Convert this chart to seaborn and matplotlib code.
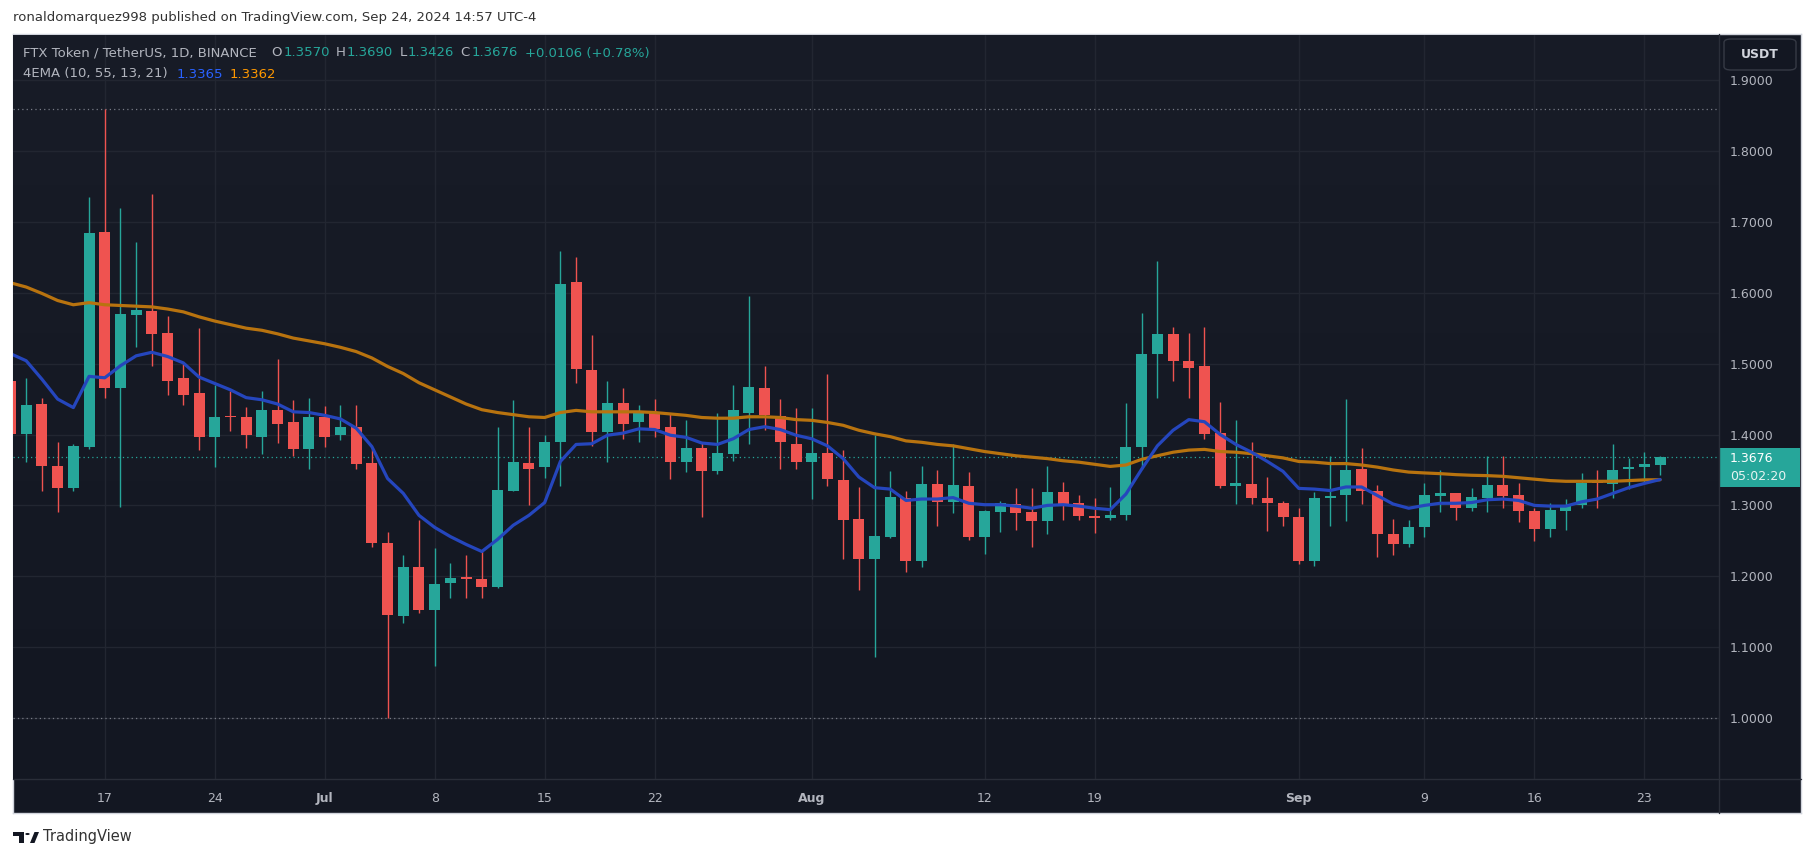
import numpy as np
import pandas as pd
import matplotlib
matplotlib.use("Agg")
import matplotlib.pyplot as plt
import matplotlib.patches as mpatches
import seaborn as sns

# ---------------- data ----------------
dates = pd.date_range("2024-06-11", "2024-09-24", freq="D")

opens = [
    1.476, 1.401, 1.443, 1.356, 1.324, 1.383, 1.686, 1.466, 1.569, 1.574,
    1.543, 1.479, 1.458, 1.396, 1.425, 1.424, 1.397, 1.434, 1.418, 1.379,
    1.425, 1.399, 1.410, 1.360, 1.247, 1.144, 1.213, 1.152, 1.190, 1.198,
    1.196, 1.185, 1.320, 1.360, 1.354, 1.389, 1.615, 1.491, 1.404, 1.445,
    1.417, 1.430, 1.410, 1.361, 1.381, 1.348, 1.373, 1.431, 1.466, 1.426,
    1.387, 1.361, 1.374, 1.336, 1.281, 1.225, 1.255, 1.311, 1.221, 1.330,
    1.305, 1.328, 1.256, 1.291, 1.302, 1.291, 1.278, 1.319, 1.304, 1.285,
    1.282, 1.286, 1.382, 1.513, 1.542, 1.504, 1.496, 1.402, 1.328, 1.330,
    1.311, 1.304, 1.284, 1.221, 1.310, 1.314, 1.352, 1.321, 1.260, 1.245,
    1.269, 1.313, 1.317, 1.296, 1.311, 1.329, 1.314, 1.292, 1.267, 1.292,
    1.300, 1.334, 1.330, 1.352, 1.354, 1.357]
highs = [
    1.490, 1.480, 1.451, 1.390, 1.387, 1.735, 1.859, 1.719, 1.671, 1.739,
    1.567, 1.500, 1.550, 1.470, 1.462, 1.439, 1.462, 1.507, 1.449, 1.452,
    1.440, 1.441, 1.441, 1.380, 1.263, 1.230, 1.280, 1.240, 1.219, 1.230,
    1.236, 1.410, 1.449, 1.411, 1.399, 1.659, 1.650, 1.541, 1.475, 1.465,
    1.442, 1.450, 1.431, 1.421, 1.390, 1.431, 1.470, 1.595, 1.496, 1.450,
    1.438, 1.438, 1.486, 1.378, 1.326, 1.399, 1.349, 1.321, 1.356, 1.350,
    1.387, 1.347, 1.293, 1.306, 1.325, 1.325, 1.356, 1.333, 1.315, 1.311,
    1.326, 1.445, 1.572, 1.645, 1.552, 1.543, 1.552, 1.446, 1.421, 1.390,
    1.340, 1.306, 1.297, 1.319, 1.370, 1.450, 1.381, 1.329, 1.281, 1.280,
    1.331, 1.350, 1.318, 1.325, 1.370, 1.369, 1.331, 1.296, 1.304, 1.309,
    1.346, 1.350, 1.387, 1.367, 1.376, 1.369]
lows = [
    1.392, 1.361, 1.321, 1.290, 1.320, 1.380, 1.451, 1.298, 1.524, 1.497,
    1.456, 1.442, 1.378, 1.354, 1.405, 1.381, 1.372, 1.388, 1.370, 1.351,
    1.383, 1.392, 1.352, 1.241, 1.000, 1.134, 1.148, 1.074, 1.169, 1.169,
    1.169, 1.184, 1.320, 1.301, 1.338, 1.328, 1.473, 1.384, 1.361, 1.393,
    1.390, 1.396, 1.337, 1.347, 1.283, 1.344, 1.362, 1.387, 1.407, 1.352,
    1.352, 1.309, 1.327, 1.225, 1.180, 1.086, 1.254, 1.206, 1.213, 1.271,
    1.289, 1.251, 1.231, 1.262, 1.265, 1.241, 1.259, 1.279, 1.279, 1.261,
    1.279, 1.279, 1.351, 1.451, 1.476, 1.451, 1.394, 1.324, 1.302, 1.302,
    1.264, 1.271, 1.217, 1.214, 1.271, 1.278, 1.302, 1.227, 1.230, 1.241,
    1.256, 1.290, 1.280, 1.292, 1.290, 1.296, 1.277, 1.250, 1.256, 1.265,
    1.297, 1.296, 1.311, 1.323, 1.333, 1.3426]
closes = [
    1.401, 1.442, 1.355, 1.324, 1.384, 1.684, 1.465, 1.570, 1.576, 1.542,
    1.476, 1.456, 1.396, 1.424, 1.424, 1.399, 1.434, 1.415, 1.380, 1.425,
    1.397, 1.410, 1.358, 1.247, 1.145, 1.213, 1.152, 1.189, 1.198, 1.196,
    1.185, 1.322, 1.361, 1.351, 1.390, 1.612, 1.493, 1.403, 1.445, 1.415,
    1.430, 1.408, 1.361, 1.381, 1.349, 1.374, 1.434, 1.467, 1.428, 1.389,
    1.361, 1.374, 1.337, 1.280, 1.224, 1.257, 1.312, 1.221, 1.330, 1.305,
    1.329, 1.256, 1.292, 1.303, 1.289, 1.278, 1.319, 1.302, 1.285, 1.282,
    1.287, 1.383, 1.513, 1.542, 1.503, 1.494, 1.401, 1.328, 1.332, 1.311,
    1.303, 1.283, 1.221, 1.311, 1.313, 1.350, 1.320, 1.259, 1.245, 1.270,
    1.315, 1.317, 1.296, 1.312, 1.329, 1.313, 1.292, 1.267, 1.294, 1.301,
    1.332, 1.332, 1.350, 1.353, 1.358, 1.3676]

ema_fast = [
    1.514, 1.504, 1.478, 1.450, 1.438, 1.482, 1.480, 1.497, 1.511, 1.516,
    1.510, 1.501, 1.481, 1.472, 1.463, 1.452, 1.449, 1.443, 1.432, 1.431,
    1.427, 1.422, 1.409, 1.383, 1.338, 1.317, 1.286, 1.269, 1.256, 1.245,
    1.235, 1.252, 1.272, 1.286, 1.304, 1.362, 1.386, 1.387, 1.399, 1.402,
    1.408, 1.407, 1.399, 1.396, 1.388, 1.386, 1.394, 1.407, 1.411, 1.407,
    1.399, 1.394, 1.384, 1.366, 1.340, 1.325, 1.323, 1.307, 1.309, 1.309,
    1.311, 1.303, 1.301, 1.301, 1.299, 1.296, 1.300, 1.301, 1.299, 1.296,
    1.294, 1.316, 1.351, 1.384, 1.406, 1.421, 1.418, 1.400, 1.386, 1.375,
    1.362, 1.348, 1.324, 1.323, 1.321, 1.326, 1.326, 1.314, 1.302, 1.296,
    1.300, 1.303, 1.303, 1.304, 1.308, 1.309, 1.307, 1.300, 1.299, 1.299,
    1.305, 1.309, 1.317, 1.325, 1.331, 1.3365]
ema_slow = [
    1.614, 1.608, 1.599, 1.589, 1.583, 1.586, 1.583, 1.582, 1.581, 1.580,
    1.577, 1.573, 1.566, 1.560, 1.555, 1.550, 1.547, 1.542, 1.536, 1.532,
    1.528, 1.523, 1.517, 1.508, 1.496, 1.486, 1.473, 1.463, 1.453, 1.443,
    1.435, 1.431, 1.428, 1.425, 1.424, 1.431, 1.434, 1.432, 1.432, 1.432,
    1.432, 1.431, 1.429, 1.427, 1.424, 1.423, 1.423, 1.425, 1.425, 1.424,
    1.421, 1.420, 1.417, 1.413, 1.406, 1.401, 1.397, 1.391, 1.389, 1.386,
    1.384, 1.380, 1.376, 1.373, 1.370, 1.368, 1.366, 1.363, 1.361, 1.358,
    1.355, 1.357, 1.365, 1.370, 1.375, 1.378, 1.379, 1.376, 1.375, 1.373,
    1.370, 1.367, 1.362, 1.361, 1.359, 1.359, 1.357, 1.354, 1.350, 1.347,
    1.3458, 1.3448, 1.3434, 1.3425, 1.342, 1.341, 1.339, 1.337, 1.335, 1.334,
    1.334, 1.334, 1.334, 1.335, 1.336, 1.3362]

tick_dates = ["2024-06-17", "2024-06-24", "2024-07-01", "2024-07-08", "2024-07-15",
              "2024-07-22", "2024-08-01", "2024-08-12", "2024-08-19", "2024-09-01",
              "2024-09-09", "2024-09-16", "2024-09-23"]
tick_labels = ["17", "24", "Jul", "8", "15", "22", "Aug", "12", "19", "Sep", "9", "16", "23"]
price_ticks = [1.0, 1.1, 1.2, 1.3, 1.4, 1.5, 1.6, 1.7, 1.8, 1.9]
last_price = 1.3676
period_high = 1.859
period_low = 1.000

# ---------------- style ----------------
sns.set_theme(style="dark")
plt.rcParams["font.family"] = ["DejaVu Sans"]

W, H = 1814, 858
fig = plt.figure(figsize=(W / 100, H / 100), dpi=100, facecolor="white")

def fx(x):
    return x / W

def fy(y):
    return 1 - y / H

UP = "#26a69a"
DOWN = "#ef5350"
TXT = "#b2b5be"
GRID = "#222631"
SEP = "#2a2e39"

# dark panel
panel = fig.add_axes([fx(12.7), fy(813), fx(1801 - 12.7), (813 - 34) / H])
panel.set_facecolor("#131722")
panel.set_xticks([]); panel.set_yticks([])
for s in panel.spines.values():
    s.set_color("#d1d4dc"); s.set_linewidth(1.0)

# plot area
L_, R_, T_, B_ = 12.7, 1719, 35, 779
ax = fig.add_axes([fx(L_), fy(B_), fx(R_ - L_), (B_ - T_) / H])
ax.set_facecolor("none")
grad = np.linspace(0, 1, 256).reshape(-1, 1)
from matplotlib.colors import LinearSegmentedColormap
cmap = LinearSegmentedColormap.from_list("bg", ["#181c27", "#131722"])
ax.imshow(grad, aspect="auto", cmap=cmap, extent=[0, 1, 0, 1], transform=ax.transAxes, zorder=0)

idx = np.arange(len(dates))
o = np.array(opens); h = np.array(highs); l = np.array(lows); c = np.array(closes)
up = c >= o
cols = np.where(up, UP, DOWN)

# grid
pos_ticks = [int(np.where(dates == pd.Timestamp(d))[0][0]) for d in tick_dates]
for p in price_ticks:
    ax.axhline(p, color=GRID, lw=1.0, zorder=1)
for p in pos_ticks:
    ax.axvline(p, color=GRID, lw=1.0, zorder=1)

# dotted lines
ax.axhline(period_high, color="#787b86", lw=0.9, ls=(0, (1, 2.5)), zorder=2)
ax.axhline(period_low, color="#787b86", lw=0.9, ls=(0, (1, 2.5)), zorder=2)
ax.axhline(last_price, color=UP, lw=0.9, ls=(0, (1, 2.5)), zorder=2)

# candles
ax.vlines(idx, l, h, colors=cols, lw=1.0, zorder=3)
body_bottom = np.minimum(o, c)
body_h = np.maximum(np.abs(c - o), 0.0028)
ax.bar(idx, body_h, bottom=body_bottom, width=0.7, color=cols, edgecolor="none", zorder=4)

# EMA lines
df = pd.DataFrame({"i": idx, "fast": ema_fast, "slow": ema_slow})
sns.lineplot(data=df, x="i", y="slow", ax=ax, color="#b8730f", lw=2.3, zorder=5, legend=False)
sns.lineplot(data=df, x="i", y="fast", ax=ax, color="#2546bd", lw=2.3, zorder=6, legend=False)

ax.set_xlim(0.14, 108.75)
ax.set_ylim(0.9141, 1.9635)
ax.set_xlabel(""); ax.set_ylabel("")
for s in ax.spines.values():
    s.set_visible(False)

ax.set_xticks(pos_ticks)
ax.set_xticklabels(tick_labels)
for lab in ax.get_xticklabels():
    if lab.get_text() in ("Jul", "Aug", "Sep"):
        lab.set_fontweight("bold")
ax.tick_params(axis="x", length=0, pad=9.5, labelsize=9, labelcolor=TXT)
ax.yaxis.tick_right()
ax.set_yticks(price_ticks)
ax.set_yticklabels([f"{p:.4f}" for p in price_ticks])
ax.tick_params(axis="y", length=0, pad=8, labelsize=9, labelcolor=TXT)
ax.grid(False)

# separators
fig.add_artist(plt.Line2D([fx(R_), fx(R_)], [fy(34), fy(813)], color=SEP, lw=1))
fig.add_artist(plt.Line2D([fx(12.7), fx(1801)], [fy(B_), fy(B_)], color=SEP, lw=1))

# current price box
fig.add_artist(mpatches.Rectangle((fx(1719.5), fy(487)), fx(80), (487 - 448) / H,
                                  facecolor=UP, edgecolor="none"))
fig.text(fx(1730), fy(458), "1.3676", color="white", fontsize=9, va="center", ha="left")
fig.text(fx(1730), fy(477), "05:02:20", color="#e6f4f2", fontsize=9, va="center", ha="left")

# USDT box
fig.add_artist(mpatches.FancyBboxPatch((fx(1724), fy(70)), fx(72), 31 / H,
                                       boxstyle="round,pad=0,rounding_size=0.004",
                                       facecolor="#131722", edgecolor="#363a45", lw=1))
fig.text(fx(1760), fy(54), "USDT", color="#d1d4dc", fontsize=9, fontweight="bold",
         va="center", ha="center")

# header
fig.text(fx(13), fy(18), "ronaldomarquez998 published on TradingView.com, Sep 24, 2024 14:57 UTC-4",
         color="#333333", fontsize=9.5, va="center", ha="left")

# legend line 1
y1 = fy(53)
fs = 9.5
fig.text(fx(23), y1, "FTX Token / TetherUS, 1D, BINANCE", color=TXT, fontsize=fs, va="center")
parts = [(271, "O", TXT), (284, "1.3570", UP), (336, "H", TXT), (347, "1.3690", UP),
         (400, "L", TXT), (408, "1.3426", UP), (460, "C", TXT), (472, "1.3676", UP),
         (525, "+0.0106 (+0.78%)", UP)]
for x, t, col in parts:
    fig.text(fx(x), y1, t, color=col, fontsize=fs, va="center")
y2 = fy(74)
fig.text(fx(23), y2, "4EMA (10, 55, 13, 21)", color=TXT, fontsize=fs, va="center")
fig.text(fx(177), y2, "1.3365", color="#2962ff", fontsize=fs, va="center")
fig.text(fx(230), y2, "1.3362", color="#ff9800", fontsize=fs, va="center")

# TradingView logo
logo = "#131722"
fig.add_artist(mpatches.Rectangle((fx(13), fy(836)), fx(11), 4 / H, facecolor=logo, edgecolor="none"))
fig.add_artist(mpatches.Rectangle((fx(19), fy(843)), fx(5), 11 / H, facecolor=logo, edgecolor="none"))
fig.add_artist(mpatches.Circle((fx(27.5), fy(834)), 2.2 / W, facecolor=logo, edgecolor="none",
                               transform=fig.transFigure))
fig.add_artist(mpatches.Polygon([(fx(30), fy(843)), (fx(34.5), fy(843)), (fx(39), fy(832)), (fx(34.5), fy(832))],
                                closed=True, facecolor=logo, edgecolor="none", transform=fig.transFigure))
fig.text(fx(43), fy(837), "TradingView", color="#333333", fontsize=10.5, va="center", ha="left")

fig.savefig("out.png", dpi=100, facecolor="white")
